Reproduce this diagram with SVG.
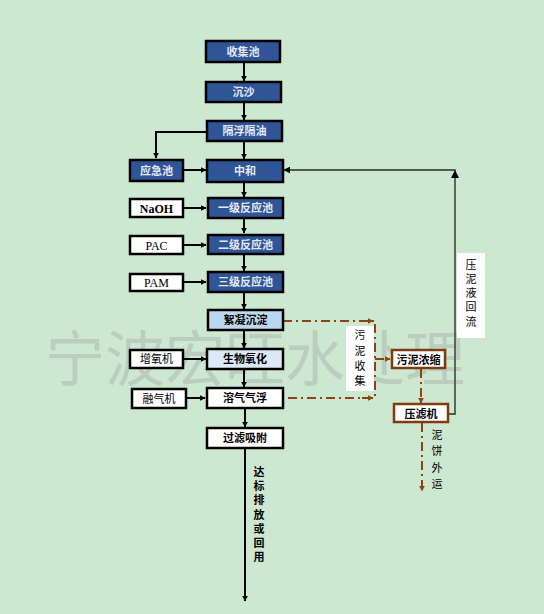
<svg xmlns="http://www.w3.org/2000/svg" width="544" height="614" viewBox="0 0 544 614">
<defs>
<style>
.bg{fill:#cde8d0}
.wm{font-family:"Noto Sans CJK SC",sans-serif;font-size:60px;fill:#b4c2b7;fill-opacity:0.7}
.dk{fill:#2f5597;stroke:#000;stroke-width:2.5}
.lt{fill:#bdd7ee;stroke:#000;stroke-width:2.5}
.vl{fill:#dce9f6;stroke:#000;stroke-width:2.5}
.wh{fill:#fff;stroke:#000;stroke-width:2.5}
.br{fill:#fff;stroke:#7f3b0e;stroke-width:2.5}
.lb{fill:#fff}
.td{font-family:"Noto Sans CJK SC",sans-serif;font-size:11px;font-weight:bold;fill:#e4e9f2;text-anchor:middle}
.tb{font-family:"Noto Sans CJK SC",sans-serif;font-size:11px;font-weight:bold;fill:#000;text-anchor:middle}
.tn{font-family:"Noto Sans CJK SC",sans-serif;font-size:11px;fill:#000;text-anchor:middle}
.tr{font-family:"Liberation Serif",serif;font-size:12px;fill:#000;text-anchor:middle}
.tv{font-family:"Noto Sans CJK SC",sans-serif;font-size:11px;fill:#000;text-anchor:middle}
.ln{fill:none;stroke:#000;stroke-width:2}
.dd{fill:none;stroke:#8b4513;stroke-width:2;stroke-dasharray:9 4 2 4}
.gy{fill:none;stroke:#4f5a52;stroke-width:1.8}
</style>
<marker id="ab" viewBox="0 0 10 10" refX="9" refY="5" markerWidth="6" markerHeight="6" orient="auto" markerUnits="userSpaceOnUse"><path d="M0,0 L10,5 L0,10 z" fill="#000"/></marker>
<marker id="abr" viewBox="0 0 10 10" refX="9" refY="5" markerWidth="6" markerHeight="6" orient="auto" markerUnits="userSpaceOnUse"><path d="M0,0 L10,5 L0,10 z" fill="#8b4513"/></marker>
<marker id="ag" viewBox="0 0 10 10" refX="9" refY="5" markerWidth="7" markerHeight="7" orient="auto" markerUnits="userSpaceOnUse"><path d="M0,0 L10,5 L0,10 z" fill="#000"/></marker>
</defs>
<rect class="bg" x="0" y="0" width="544" height="614"/>
<text class="wm" x="45" y="381">宁波宏旺水处理</text>

<g id="connectors">
<line class="ln" x1="244" y1="62" x2="244" y2="81" marker-end="url(#ab)"/>
<line class="ln" x1="244" y1="102" x2="244" y2="120" marker-end="url(#ab)"/>
<line class="ln" x1="244" y1="141" x2="244" y2="159" marker-end="url(#ab)"/>
<polyline class="ln" points="207,132 156,132 156,158" marker-end="url(#ab)"/>
<line class="ln" x1="183" y1="170" x2="206" y2="170" marker-end="url(#ab)"/>
<line class="ln" x1="244" y1="182" x2="244" y2="197" marker-end="url(#ab)"/>
<line class="ln" x1="183" y1="208" x2="206" y2="208" marker-end="url(#ab)"/>
<line class="ln" x1="244" y1="218" x2="244" y2="233" marker-end="url(#ab)"/>
<line class="ln" x1="183" y1="245" x2="206" y2="245" marker-end="url(#ab)"/>
<line class="ln" x1="244" y1="254" x2="244" y2="271" marker-end="url(#ab)"/>
<line class="ln" x1="183" y1="282" x2="206" y2="282" marker-end="url(#ab)"/>
<line class="ln" x1="244" y1="292" x2="244" y2="309" marker-end="url(#ab)"/>
<line class="ln" x1="244" y1="330" x2="244" y2="348" marker-end="url(#ab)"/>
<line class="ln" x1="183" y1="359" x2="206" y2="359" marker-end="url(#ab)"/>
<line class="ln" x1="244" y1="369" x2="244" y2="387" marker-end="url(#ab)"/>
<line class="ln" x1="186" y1="398" x2="205" y2="398" marker-end="url(#ab)"/>
<line class="ln" x1="245" y1="408" x2="245" y2="427" marker-end="url(#ab)"/>
<line class="ln" x1="245" y1="448" x2="245" y2="601" marker-end="url(#ab)"/>
<polyline class="dd" points="283,321 375,321 375,398 283,398"/>
<line class="dd" x1="362" y1="321" x2="373" y2="321" marker-end="url(#abr)"/>
<line class="dd" x1="362" y1="398" x2="373" y2="398" marker-end="url(#abr)"/>
<line class="dd" x1="375" y1="359" x2="390" y2="359" marker-end="url(#abr)"/>
<line class="dd" x1="421" y1="369" x2="421" y2="403" marker-end="url(#abr)"/>
<line class="dd" x1="422" y1="423" x2="422" y2="491" marker-end="url(#abr)"/>
<polyline class="gy" points="449,414 455,414 455,171"/>
<polyline class="gy" points="455,171 455,170 284,170" marker-end="url(#ag)"/>
<path d="M451,178 L455,170 L459,178 z" fill="#000"/>
</g>

<g id="n-shouji"><rect class="dk" x="206" y="41" width="74" height="21"/><text class="td" x="243" y="55.5">收集池</text></g>
<g id="n-chensha"><rect class="dk" x="206" y="82" width="75" height="20"/><text class="td" x="243.5" y="96">沉沙</text></g>
<g id="n-gefu"><rect class="dk" x="207" y="121" width="75" height="20"/><text class="td" x="244.5" y="135">隔浮隔油</text></g>
<g id="n-yingji"><rect class="dk" x="130" y="160" width="53" height="21"/><text class="td" x="156.5" y="174.5">应急池</text></g>
<g id="n-zhonghe"><rect class="dk" x="207" y="160" width="76" height="22"/><text class="td" x="245" y="175">中和</text></g>
<g id="n-naoh"><rect class="wh" x="130" y="199" width="53" height="18"/><text class="tr" x="156.5" y="212.5" font-weight="bold">NaOH</text></g>
<g id="n-yiji"><rect class="dk" x="208" y="198" width="75" height="20"/><text class="td" x="245.5" y="212">一级反应池</text></g>
<g id="n-pac"><rect class="wh" x="130" y="236" width="53" height="18"/><text class="tr" x="156.5" y="249.5">PAC</text></g>
<g id="n-erji"><rect class="dk" x="208" y="235" width="75" height="19"/><text class="td" x="245.5" y="248.5">二级反应池</text></g>
<g id="n-pam"><rect class="wh" x="130" y="274" width="53" height="17"/><text class="tr" x="156.5" y="287">PAM</text></g>
<g id="n-sanji"><rect class="dk" x="208" y="272" width="75" height="20"/><text class="td" x="245.5" y="286">三级反应池</text></g>
<g id="n-xuning"><rect class="lt" x="208" y="310" width="75" height="20"/><text class="tb" x="245.5" y="324">絮凝沉淀</text></g>
<g id="n-zengyang"><rect class="wh" x="130" y="350" width="53" height="18"/><text class="tn" x="156.5" y="363">增氧机</text></g>
<g id="n-shengwu"><rect class="vl" x="207" y="349" width="76" height="20"/><text class="tb" x="245" y="363">生物氧化</text></g>
<g id="n-rongqiji"><rect class="wh" x="132" y="389" width="54" height="19"/><text class="tn" x="159" y="402.5">融气机</text></g>
<g id="n-rongqi"><rect class="wh" x="207" y="388" width="76" height="20"/><text class="tb" x="245" y="402">溶气气浮</text></g>
<g id="n-guolv"><rect class="wh" x="207" y="428" width="76" height="20"/><text class="tb" x="245" y="442">过滤吸附</text></g>
<g id="n-nongsuo"><rect class="br" x="392" y="350" width="53" height="18"/><text class="tb" x="418.5" y="363.5">污泥浓缩</text></g>
<g id="n-yalv"><rect class="br" x="394" y="404" width="54" height="18"/><text class="tb" x="421" y="417.5">压滤机</text></g>

<g id="l-wuni"><rect class="lb" x="346" y="326" width="28" height="65"/>
<text class="tv" x="360" y="339">污</text><text class="tv" x="360" y="355">泥</text><text class="tv" x="360" y="370">收</text><text class="tv" x="360" y="385">集</text></g>
<g id="l-huiliu"><rect class="lb" x="457" y="253" width="28" height="85"/>
<text class="tv" x="471" y="269">压</text><text class="tv" x="471" y="283">泥</text><text class="tv" x="471" y="297">液</text><text class="tv" x="471" y="311">回</text><text class="tv" x="471" y="326">流</text></g>
<g id="l-nibing">
<text class="tv" x="437" y="439">泥</text><text class="tv" x="437" y="455">饼</text><text class="tv" x="437" y="472">外</text><text class="tv" x="437" y="488">运</text></g>
<g id="l-dabiao">
<text class="tb" x="259" y="476">达</text><text class="tb" x="259" y="490">标</text><text class="tb" x="259" y="504">排</text><text class="tb" x="259" y="519">放</text><text class="tb" x="259" y="533">或</text><text class="tb" x="259" y="547">回</text><text class="tb" x="259" y="561">用</text></g>
</svg>
